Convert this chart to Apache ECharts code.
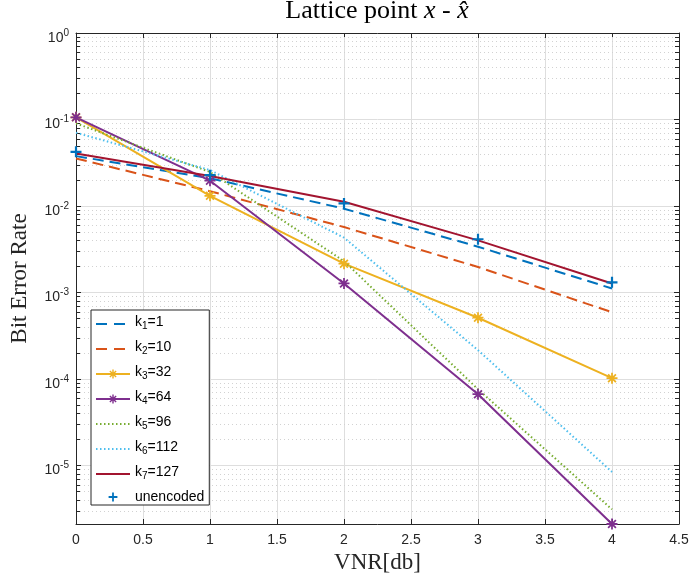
<!DOCTYPE html>
<html>
<head>
<meta charset="utf-8">
<title>Lattice point BER</title>
<script src="https://cdn.jsdelivr.net/npm/echarts@6/dist/echarts.min.js"></script>
<style>
  html, body { margin: 0; padding: 0; background: #ffffff; }
  #chart { width: 689px; height: 579px; }
</style>
</head>
<body>
<div id="chart"></div>
<script>
// ---- data -------------------------------------------------------------
const vnr = [0, 1, 2, 3, 4];                                   // VNR [dB]
const berK1 = [0.0377, 0.0209, 0.0093, 0.00338, 0.00111];
const berK2 = [0.0354, 0.0148, 0.0057, 0.00197, 0.00059];
const berK3 = [0.106, 0.0131, 0.00215, 0.00051, 0.000102];
const berK4 = [0.106, 0.0196, 0.00127, 0.0000665, 0.0000021];
const berK5 = [0.090, 0.0247, 0.0023, 0.000076, 0.0000031];
const berK6 = [0.0703, 0.0260, 0.0043, 0.000215, 0.0000084];
const berK7 = [0.0405, 0.0222, 0.0112, 0.0040, 0.00127];
const berUncoded = [0.0423, 0.0227, 0.0107, 0.00412, 0.00131];

const kIndex = ['1', '2', '3', '4', '5', '6', '7'];
const kValue = ['1', '10', '32', '64', '96', '112', '127'];
const uncodedLabel = 'unencoded';

const X_MIN = 0, X_MAX = 4.5, X_STEP = 0.5;
const Y_MAX = 1;
const Y_MIN = Math.min(...berK1, ...berK2, ...berK3, ...berK4, ...berK5, ...berK6, ...berK7, ...berUncoded);

// ---- styling ----------------------------------------------------------
const AXIS = '#262626';
const SANS = '"Liberation Sans", Arial, Helvetica, sans-serif';
const SERIF = '"Liberation Serif", "Times New Roman", serif';

// MATLAB-like asterisk and plus markers (filled outlines, same winding)
const STAR = 'path://M4.2,0h1.6v10h-1.6zM0,4.2h10v1.6h-10z' +
             'M2.02,0.89L9.11,7.98L7.98,9.11L0.89,2.02z' +
             'M7.98,0.89L9.11,2.02L2.02,9.11L0.89,7.98z';
const PLUS = 'path://M4,0h2v10h-2zM0,4h10v2h-10z';

const DASH = [11, 6];
const DOT = [1.5, 2.5];

const curves = [
  { values: berK1, color: '#0072BD', width: 2, type: DASH, legendType: [11, 7], marker: null },
  { values: berK2, color: '#D95319', width: 2, type: DASH, legendType: [11, 7], marker: null },
  { values: berK3, color: '#EDB120', width: 2, type: 'solid', marker: STAR, size: 11 },
  { values: berK4, color: '#7E2F8E', width: 2, type: 'solid', marker: STAR, size: 11 },
  { values: berK5, color: '#77AC30', width: 2, type: DOT, marker: null },
  { values: berK6, color: '#4DBEEE', width: 2, type: DOT, marker: null },
  { values: berK7, color: '#A2142F', width: 2, type: 'solid', marker: null }
];
curves.forEach((c, i) => { c.name = 'k' + kIndex[i] + '=' + kValue[i]; c.sub = kIndex[i]; c.val = kValue[i]; });

const series = curves.map(c => ({
  name: c.name,
  type: 'line',
  data: vnr.map((x, i) => [x, c.values[i]]),
  symbol: c.marker || 'none',
  symbolSize: c.size || 0,
  showSymbol: !!c.marker,
  clip: false,
  lineStyle: { color: c.color, width: c.width, type: c.type, cap: 'butt' },
  itemStyle: { color: c.color },
  emphasis: { disabled: true },
  z: 3
}));

series.push({
  name: uncodedLabel,
  type: 'line',
  data: vnr.map((x, i) => [x, berUncoded[i]]),
  symbol: PLUS,
  symbolSize: 11,
  clip: false,
  lineStyle: { width: 0, opacity: 0 },
  itemStyle: { color: '#0072BD' },
  emphasis: { disabled: true },
  z: 3
});

// dotted minor grid at 2..9 x 10^n, with short inward minor ticks on both sides
const minorValues = [];
for (let d = Math.floor(Math.log10(Y_MIN)); d < 0; d++) {
  for (let m = 2; m <= 9; m++) {
    const v = m * Math.pow(10, d);
    if (v > Y_MIN && v < Y_MAX) minorValues.push(v);
  }
}
series.push({
  type: 'custom',
  name: 'minor-grid',
  silent: true,
  z: 1,
  clip: false,
  data: minorValues.map(v => [X_MIN, v]),
  renderItem: (params, api) => {
    const v = api.value(1);
    const a = api.coord([X_MIN, v]);
    const b = api.coord([X_MAX, v]);
    const y = Math.round(a[1]) + 0.5;
    return {
      type: 'group',
      children: [
        { type: 'line', shape: { x1: a[0], y1: y, x2: b[0], y2: y },
          style: { stroke: '#d2d2d2', lineWidth: 1, lineDash: [1, 3] } },
        { type: 'line', shape: { x1: a[0], y1: y, x2: a[0] + 4, y2: y },
          style: { stroke: AXIS, lineWidth: 1 } },
        { type: 'line', shape: { x1: b[0] - 4, y1: y, x2: b[0], y2: y },
          style: { stroke: AXIS, lineWidth: 1 } }
      ]
    };
  }
});

const legendData = curves.map(c => ({
  name: c.name,
  itemStyle: { opacity: c.marker ? 1 : 0 },
  lineStyle: c.legendType ? { type: c.legendType } : {}
}));
legendData.push({ name: uncodedLabel });

const axisLineStyle = { show: true, onZero: false, lineStyle: { color: AXIS, width: 1 } };
const tickStyle = { show: true, inside: true, length: 5, lineStyle: { color: AXIS, width: 1 } };

const option = {
  animation: false,
  backgroundColor: '#ffffff',
  title: {
    text: '{r|Lattice point }{i|x}{r| - }{i|x\u0302}',
    left: 377,
    top: -2,
    textAlign: 'center',
    padding: 0,
    textStyle: {
      fontWeight: 'normal',
      rich: {
        r: { fontFamily: SERIF, fontSize: 26, lineHeight: 26, fontWeight: 'normal', color: '#000000' },
        i: { fontFamily: SERIF, fontSize: 26, lineHeight: 26, fontWeight: 'normal', fontStyle: 'italic', color: '#000000' }
      }
    }
  },
  grid: { left: 76, top: 33, width: 603, height: 491, containLabel: false, outerBoundsMode: 'none' },
  legend: {
    orient: 'vertical',
    left: 91,
    top: 310,
    align: 'left',
    padding: [5, 5, 1, 4],
    itemWidth: 34,
    itemHeight: 11,
    itemGap: 7,
    backgroundColor: '#ffffff',
    borderColor: AXIS,
    borderWidth: 1,
    borderRadius: 0,
    selectedMode: false,
    data: legendData,
    formatter: name => {
      const c = curves.find(k => k.name === name);
      if (!c) return '{u|' + name + '}';
      return '{t|k}{s|' + c.sub + '}{t|=' + c.val + '}';
    },
    textStyle: {
      rich: {
        t: { fontFamily: SANS, fontSize: 14, lineHeight: 14, padding: [0, 0, 4, 0], color: '#000000' },
        s: { fontFamily: SANS, fontSize: 10, lineHeight: 10, padding: [6, 0, 2, 0], color: '#000000' },
        u: { fontFamily: SANS, fontSize: 14, lineHeight: 18, color: '#000000' }
      }
    }
  },
  xAxis: [
    {
      type: 'value', min: X_MIN, max: X_MAX, interval: X_STEP, position: 'bottom',
      axisLine: axisLineStyle, axisTick: tickStyle,
      axisLabel: { show: true, margin: 9, color: AXIS, fontSize: 14, fontFamily: SANS },
      splitLine: { show: true, lineStyle: { color: '#dedede', width: 1 } },
      name: 'VNR[db]', nameLocation: 'middle', nameGap: 26,
      nameTextStyle: { fontFamily: SERIF, fontSize: 23, color: AXIS, verticalAlign: 'top' }
    },
    {
      type: 'value', min: X_MIN, max: X_MAX, interval: X_STEP, position: 'top',
      axisLine: axisLineStyle, axisTick: tickStyle,
      axisLabel: { show: false }, splitLine: { show: false }
    }
  ],
  yAxis: [
    {
      type: 'log', logBase: 10, min: Y_MIN, max: Y_MAX, position: 'left',
      axisLine: axisLineStyle, axisTick: tickStyle,
      axisLabel: {
        show: true, margin: 7, color: AXIS,
        formatter: v => {
          const e = Math.log10(v);
          const r = Math.round(e);
          if (Math.abs(e - r) > 1e-6) return '';
          return '{b|10}{s|' + r + '}';
        },
        rich: {
          b: { fontFamily: SANS, fontSize: 14, lineHeight: 15, verticalAlign: 'bottom', color: AXIS },
          s: { fontFamily: SANS, fontSize: 10, lineHeight: 24, verticalAlign: 'middle', color: AXIS }
        }
      },
      splitLine: { show: true, lineStyle: { color: '#dedede', width: 1 } },
      name: 'Bit Error Rate', nameLocation: 'middle', nameGap: 45,
      nameTextStyle: { fontFamily: SERIF, fontSize: 23, color: AXIS }
    },
    {
      type: 'log', logBase: 10, min: Y_MIN, max: Y_MAX, position: 'right',
      axisLine: axisLineStyle, axisTick: tickStyle,
      axisLabel: { show: false }, splitLine: { show: false }
    }
  ],
  series: series
};

const chart = echarts.init(document.getElementById('chart'), null, { renderer: 'canvas' });
chart.setOption(option);
</script>
</body>
</html>
